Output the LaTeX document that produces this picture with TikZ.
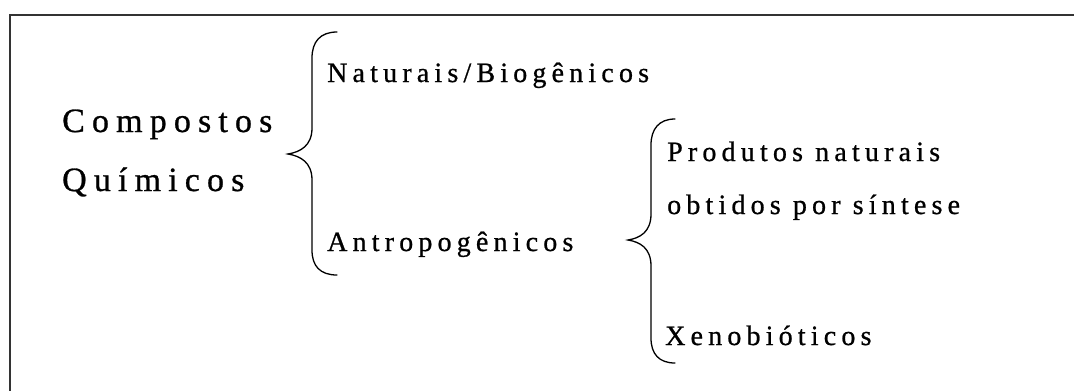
\documentclass[tikz,border=0pt]{standalone}
\usepackage{fontspec}
\setmainfont{Liberation Serif}
\begin{document}
\begin{tikzpicture}[x=1pt,y=-1pt,
  bigtxt/.style={anchor=base west,inner sep=0pt,font=\fontsize{34}{40}\selectfont\addfontfeatures{LetterSpace=21,FakeBold=0.8}},
  smalltxt/.style={anchor=base west,inner sep=0pt,font=\fontsize{28}{33}\selectfont\addfontfeatures{LetterSpace=18.5,FakeBold=0.8}},
  frame/.style={line width=1.6pt,draw=black!80},
  brace/.style={line width=1.3pt,line cap=round}]
\useasboundingbox (0,0) rectangle (1074,391);
\draw[frame] (10,391) -- (10,15) -- (1074,15);
% texts
\node[bigtxt] (comp) at (62,132) {Compostos};
\node[bigtxt] (quim) at (62,191) {Químicos};
\node[smalltxt] (nat) at (327,82) {Naturais/Biogênicos};
\node[smalltxt] (antr) at (327,251) {Antropogênicos};
\node[smalltxt] (prod) at (667,161) {Produtos naturais};
\node[smalltxt] (obt) at (667,214) {obtidos por síntese};
\node[smalltxt] (xeno) at (665,345) {Xenobióticos};
% brace 1
\coordinate (b1t) at (337,32);
\coordinate (b1m) at (288,154);
\coordinate (b1b) at (337,275);
\draw[brace] (b1t) .. controls (320,32) and (312,42) .. (312,58)
  -- (312,128) .. controls (312,146) and (300,152) .. (b1m)
  .. controls (300,156) and (312,162) .. (312,180)
  -- (312,250) .. controls (312,266) and (320,275) .. (b1b);
% brace 2
\coordinate (b2t) at (675,119);
\coordinate (b2m) at (628,240);
\coordinate (b2b) at (675,363);
\draw[brace] (b2t) .. controls (659,119) and (651,129) .. (651,145)
  -- (651,214) .. controls (651,232) and (640,238) .. (b2m)
  .. controls (640,242) and (651,248) .. (651,266)
  -- (651,338) .. controls (651,354) and (659,363) .. (b2b);
\end{tikzpicture}
\end{document}
